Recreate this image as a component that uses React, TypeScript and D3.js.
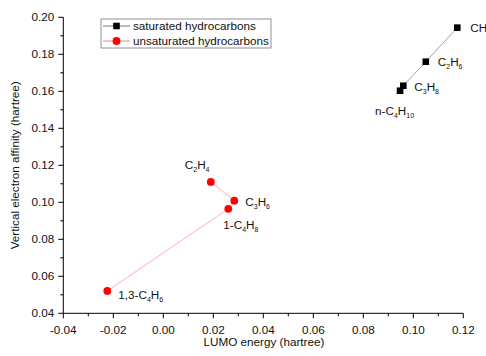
import React from "react";
import * as d3 from "d3";

const satNames = ["CH4", "C2H6", "C3H8", "n-C4H10"];
const satX = [0.1176, 0.105, 0.096, 0.0947];
const satY = [0.1944, 0.176, 0.163, 0.1603];

const unsatNames = ["C2H4", "C3H6", "1-C4H8", "1,3-C4H6"];
const unsatX = [0.019, 0.0284, 0.026, -0.0224];
const unsatY = [0.111, 0.1009, 0.0965, 0.0521];

const xTicks = [-0.04, -0.02, 0.0, 0.02, 0.04, 0.06, 0.08, 0.1, 0.12];
const yTicks = [0.04, 0.06, 0.08, 0.1, 0.12, 0.14, 0.16, 0.18, 0.2];
const xMinor = [-0.03, -0.01, 0.01, 0.03, 0.05, 0.07, 0.09, 0.11];
const yMinor = [0.05, 0.07, 0.09, 0.11, 0.13, 0.15, 0.17, 0.19];

const legendLabels = ["saturated hydrocarbons", "unsaturated hydrocarbons"];

// label offsets (pixel) relative to the point
const satLabelOff: [number, number][] = [[13, 4], [12, 4], [11, 5], [-25, 24]];
const unsatLabelOff: [number, number][] = [[-26, -13], [11, 5], [-5, 20], [11, 8]];

const FONT = "Liberation Sans, Arial, sans-serif";
const FS = 11.7;

function Formula({ name, x, y }: { name: string; x: number; y: number }) {
  const parts: { t: string; sub: boolean }[] = [];
  let prefix = "";
  let rest = name;
  const m = name.match(/^([0-9,]+-|n-)/);
  if (m) {
    prefix = m[0];
    rest = name.slice(prefix.length);
  }
  if (prefix) parts.push({ t: prefix, sub: false });
  const re = /([A-Za-z]+)|([0-9]+)/g;
  let mm;
  while ((mm = re.exec(rest)) !== null) {
    if (mm[1]) parts.push({ t: mm[1], sub: false });
    else parts.push({ t: mm[2], sub: true });
  }
  return (
    <text x={x} y={y} fontFamily={FONT} fontSize={FS} fill="#111">
      {parts.map((p, i) =>
        p.sub ? (
          <tspan key={i} fontSize={7} dy={3}>
            {p.t}
          </tspan>
        ) : (
          <tspan key={i} fontSize={FS} dy={i > 0 && parts[i - 1].sub ? -3 : 0}>
            {p.t}
          </tspan>
        )
      )}
    </text>
  );
}

export default function App() {
  const W = 486;
  const H = 356;
  const x = d3.scaleLinear().domain([-0.04, 0.12]).range([63.3, 463.3]);
  const y = d3.scaleLinear().domain([0.04, 0.2]).range([313.3, 17.3]);
  const x0 = x(-0.04);
  const y0 = y(0.04);

  const line = d3
    .line<[number, number]>()
    .x((d) => x(d[0]))
    .y((d) => y(d[1]));

  const satPts = satX.map((v, i) => [v, satY[i]] as [number, number]);
  const unsatPts = unsatX.map((v, i) => [v, unsatY[i]] as [number, number]);

  return (
    <svg
      width={W}
      height={H}
      style={{ position: "absolute", left: 0, top: 0, background: "#fff" }}
    >
      <rect x={0} y={0} width={W} height={H} fill="#fff" />
      <line x1={x0} x2={x(0.12)} y1={y0} y2={y0} stroke="#000" strokeWidth={1} />
      <line x1={x0} x2={x0} y1={y0} y2={y(0.2)} stroke="#000" strokeWidth={1} />
      {xTicks.map((t) => (
        <g key={"xt" + t}>
          <line x1={x(t)} x2={x(t)} y1={y0} y2={y0 + 5} stroke="#000" />
          <text
            x={x(t)}
            y={y0 + 21}
            textAnchor="middle"
            fontFamily={FONT}
            fontSize={FS}
            fill="#111"
          >
            {t.toFixed(2)}
          </text>
        </g>
      ))}
      {xMinor.map((t) => (
        <line key={"xm" + t} x1={x(t)} x2={x(t)} y1={y0} y2={y0 + 3} stroke="#000" />
      ))}
      {yTicks.map((t) => (
        <g key={"yt" + t}>
          <line x1={x0 - 5} x2={x0} y1={y(t)} y2={y(t)} stroke="#000" />
          <text
            x={x0 - 9}
            y={y(t) + 4}
            textAnchor="end"
            fontFamily={FONT}
            fontSize={FS}
            fill="#111"
          >
            {t.toFixed(2)}
          </text>
        </g>
      ))}
      {yMinor.map((t) => (
        <line key={"ym" + t} x1={x0 - 3} x2={x0} y1={y(t)} y2={y(t)} stroke="#000" />
      ))}
      <text
        x={264}
        y={346}
        textAnchor="middle"
        fontFamily={FONT}
        fontSize={FS}
        fill="#111"
      >
        LUMO energy (hartree)
      </text>
      <text
        transform={`translate(19,${(y0 + y(0.2)) / 2}) rotate(-90)`}
        textAnchor="middle"
        fontFamily={FONT}
        fontSize={FS}
        fill="#111"
      >
        Vertical electron affinity (hartree)
      </text>

      <path d={line(satPts) || ""} fill="none" stroke="#888" strokeWidth={0.8} />
      <path d={line(unsatPts) || ""} fill="none" stroke="#f99" strokeWidth={0.8} />

      {satPts.map((p, i) => (
        <rect
          key={"s" + i}
          x={x(p[0]) - 3.3}
          y={y(p[1]) - 3.3}
          width={6.6}
          height={6.6}
          fill="#000"
        />
      ))}
      {unsatPts.map((p, i) => (
        <circle key={"u" + i} cx={x(p[0])} cy={y(p[1])} r={3.9} fill="#f00" />
      ))}

      {satPts.map((p, i) => (
        <Formula
          key={"sl" + i}
          name={satNames[i]}
          x={x(p[0]) + satLabelOff[i][0]}
          y={y(p[1]) + satLabelOff[i][1]}
        />
      ))}
      {unsatPts.map((p, i) => (
        <Formula
          key={"ul" + i}
          name={unsatNames[i]}
          x={x(p[0]) + unsatLabelOff[i][0]}
          y={y(p[1]) + unsatLabelOff[i][1]}
        />
      ))}

      <rect x={101} y={19} width={170} height={29} fill="#fff" stroke="#777" strokeWidth={0.8} />
      <line x1={103} x2={130} y1={26} y2={26} stroke="#555" strokeWidth={0.8} />
      <rect x={113.2} y={22.7} width={6.6} height={6.6} fill="#000" />
      <text x={133} y={30} fontFamily={FONT} fontSize={FS} fill="#111">
        {legendLabels[0]}
      </text>
      <line x1={103} x2={130} y1={41} y2={41} stroke="#f66" strokeWidth={0.8} />
      <circle cx={116.5} cy={41} r={3.9} fill="#f00" />
      <text x={133} y={45} fontFamily={FONT} fontSize={FS} fill="#111">
        {legendLabels[1]}
      </text>
    </svg>
  );
}
